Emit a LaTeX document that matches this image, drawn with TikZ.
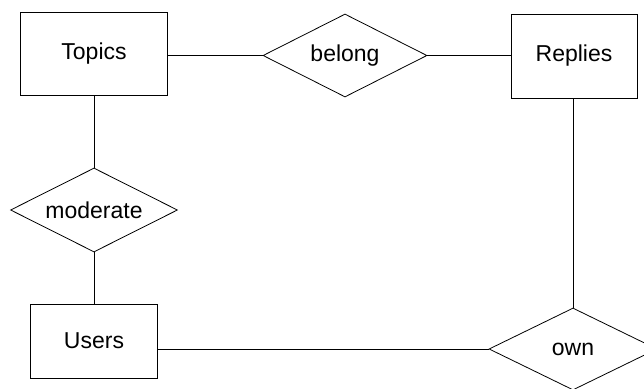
\documentclass[tikz,border=0pt]{standalone}
\usepackage{fontspec}
\setmainfont{Liberation Sans}
\usetikzlibrary{shapes.geometric}
\begin{document}
\begin{tikzpicture}[x=1pt,y=-1pt,
  ent/.style={draw, line width=0.8pt, minimum width=#1, inner sep=0pt},
  rel/.style={draw, diamond, line width=0.8pt, inner sep=0pt},
  conn/.style={draw, line width=0.8pt},
  lbl/.style={font=\fontsize{23}{25}\selectfont}]
\useasboundingbox (0,0) rectangle (644,388);
\node[ent=147pt, minimum height=83pt, lbl] (topics) at (94,53.5) {Topics};
\node[ent=126pt, minimum height=84pt, lbl] (replies) at (574,56) {Replies};
\node[ent=127pt, minimum height=74pt, lbl] (users) at (94,341) {Users};
\node[rel, minimum width=164pt, minimum height=83pt, label={[lbl]center:belong}] (belong) at (345,55.5) {};
\node[rel, minimum width=167pt, minimum height=84pt, label={[lbl]center:moderate}] (moderate) at (94,210) {};
\node[rel, minimum width=168pt, minimum height=82pt, label={[lbl]center:own}] (own) at (573,349) {};
\draw[conn] (belong.west -| topics.east) -- (belong.west);
\draw[conn] (belong.east) -- (belong.east -| replies.west);
\draw[conn] (topics.south) -- (moderate.north);
\draw[conn] (moderate.south) -- (users.north);
\draw[conn] (replies.south -| own.north) -- (own.north);
\draw[conn] (own.west -| users.east) -- (own.west);
\end{tikzpicture}
\end{document}
